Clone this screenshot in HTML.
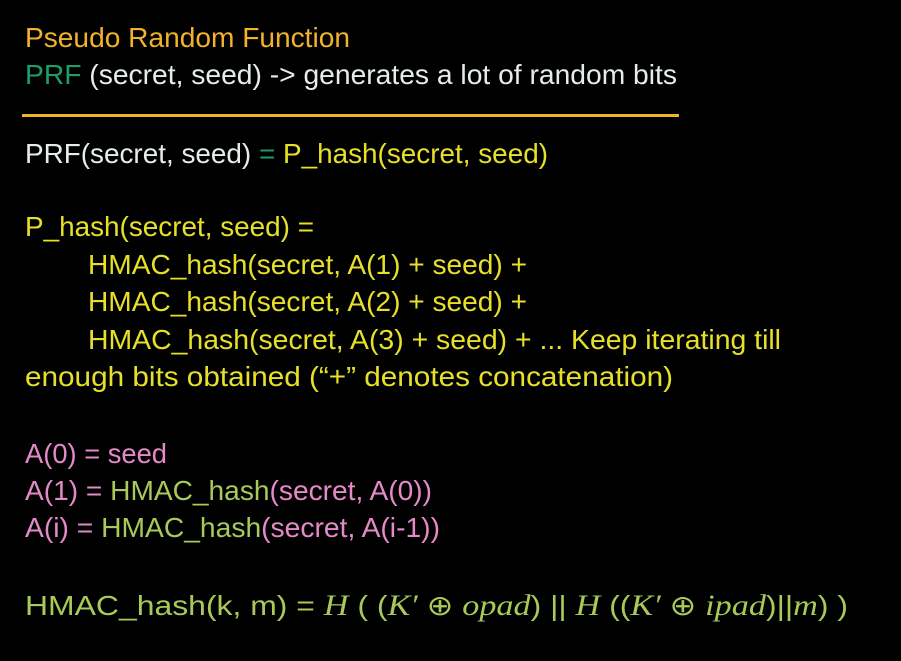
<!DOCTYPE html>
<html><head><meta charset="utf-8"><style>
html,body{margin:0;padding:0;background:#000;width:901px;height:661px;overflow:hidden}
text{font-family:"Liberation Sans",sans-serif;font-size:28px}
.o{fill:#f2b32a}.t{fill:#1e9c6c}.w{fill:#e6ecee}.y{fill:#e6e02a}.p{fill:#e58ac8}.g{fill:#a9c958}
.i{font-family:"Liberation Serif",serif;font-style:italic;font-size:30px}
</style></head><body>
<svg width="901" height="661" xmlns="http://www.w3.org/2000/svg">
<rect width="901" height="661" fill="#000"/>
<text x="25" y="47" textLength="325" lengthAdjust="spacingAndGlyphs" class="o">Pseudo Random Function</text>
<text x="25" y="84" textLength="652" lengthAdjust="spacingAndGlyphs"><tspan class="t">PRF</tspan><tspan class="w"> (secret, seed) -&gt; generates a lot of random bits</tspan></text>
<rect x="22" y="114" width="657" height="3" fill="#f2b32a"/>
<text x="25" y="163" textLength="523" lengthAdjust="spacingAndGlyphs"><tspan class="w">PRF(secret, seed) </tspan><tspan class="t">=</tspan><tspan class="y"> P_hash(secret,  seed)</tspan></text>
<text x="25" y="236" textLength="289" lengthAdjust="spacingAndGlyphs" class="y">P_hash(secret, seed) =</text>
<text x="88" y="274" textLength="439" lengthAdjust="spacingAndGlyphs" class="y">HMAC_hash(secret, A(1) + seed) +</text>
<text x="88" y="311" textLength="439" lengthAdjust="spacingAndGlyphs" class="y">HMAC_hash(secret, A(2) + seed) +</text>
<text x="88" y="349" textLength="693" lengthAdjust="spacingAndGlyphs" class="y">HMAC_hash(secret, A(3) + seed) + ... Keep iterating till</text>
<text x="25" y="386" textLength="648" lengthAdjust="spacingAndGlyphs" class="y">enough bits obtained  (“+” denotes concatenation)</text>
<text x="25" y="463" textLength="142" lengthAdjust="spacingAndGlyphs" class="p">A(0) = seed</text>
<text x="25" y="500" textLength="407" lengthAdjust="spacingAndGlyphs"><tspan class="p">A(1) = </tspan><tspan class="g">HMAC_hash</tspan><tspan class="p">(secret, A(0))</tspan></text>
<text x="25" y="537" textLength="415" lengthAdjust="spacingAndGlyphs"><tspan class="p">A(i) = </tspan><tspan class="g">HMAC_hash</tspan><tspan class="p">(secret, A(i-1))</tspan></text>
<text x="25" y="615" textLength="823" lengthAdjust="spacingAndGlyphs" class="g"><tspan>HMAC_hash(k, m) = </tspan><tspan class="i">H</tspan><tspan> ( (</tspan><tspan class="i">K′</tspan><tspan> ⊕  </tspan><tspan class="i">opad</tspan><tspan>) || </tspan><tspan class="i">H</tspan><tspan> ((</tspan><tspan class="i">K′</tspan><tspan> ⊕ </tspan><tspan class="i">ipad</tspan><tspan>)||</tspan><tspan class="i">m</tspan><tspan>) )</tspan></text>
</svg>
</body></html>
